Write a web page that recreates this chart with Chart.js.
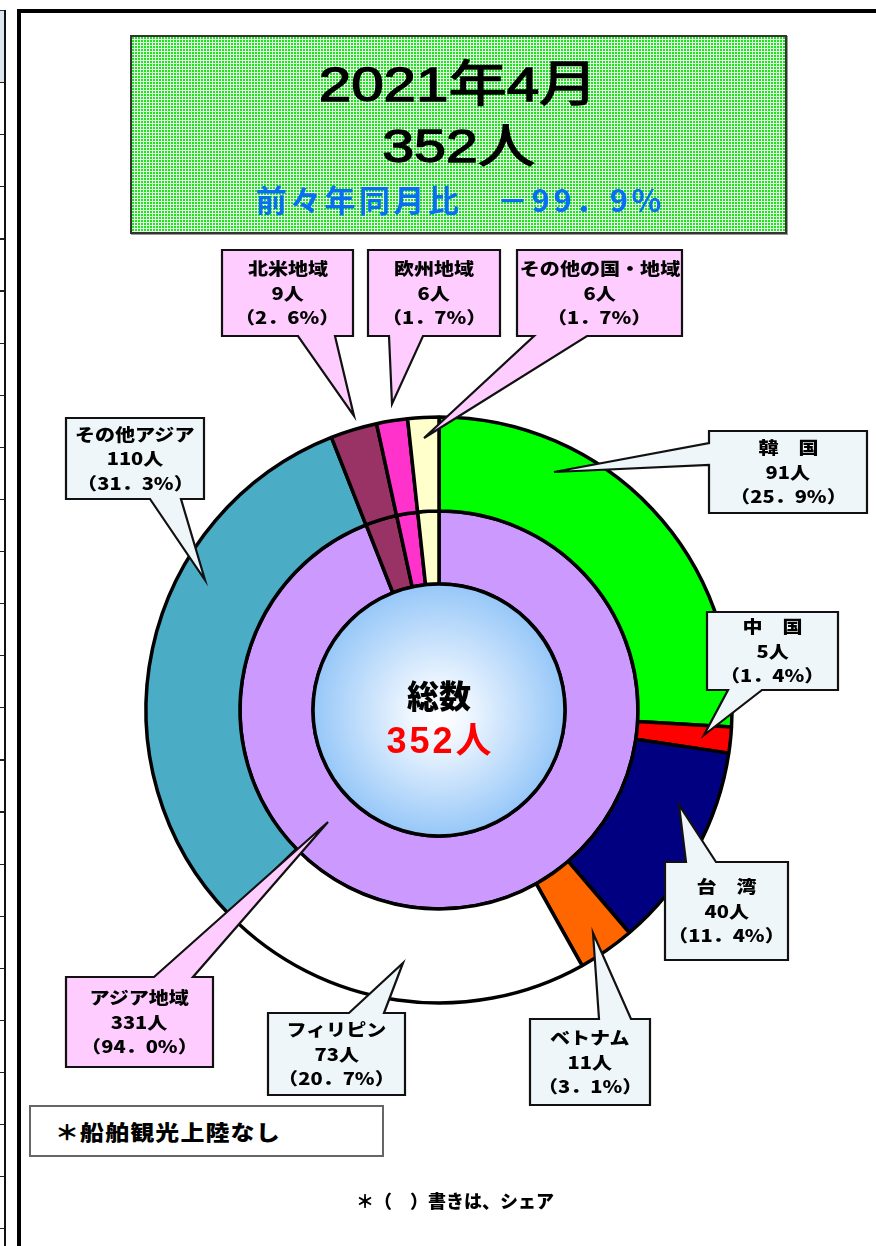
<!DOCTYPE html>
<html><head><meta charset="utf-8">
<script src="https://cdn.jsdelivr.net/npm/chart.js@4.4.0/dist/chart.umd.min.js"></script>
<style>
html,body{margin:0;padding:0;background:#fff;}
body{width:876px;height:1246px;position:relative;overflow:hidden;font-family:"Noto Sans CJK JP","Noto Sans",sans-serif;}
#c{position:absolute;left:0;top:0;}
#frame{position:absolute;left:17px;top:9px;width:900px;height:1300px;border-top:4px solid #000;border-left:4px solid #000;}
#tblHead{position:absolute;left:0;top:10px;width:4px;height:72px;background:#DCE6F1;border-top:1px solid #333;}
#tblLines{position:absolute;left:0;top:82px;width:4px;height:1164px;background:repeating-linear-gradient(to bottom,#222 0,#222 1.2px,transparent 1.2px,transparent 52.1px);}
#tblV{position:absolute;left:4px;top:10px;width:1.5px;height:1236px;background:#111;}
#title{position:absolute;left:130px;top:35px;width:653px;height:195px;border:2px solid #333;box-shadow:1px 1px 0 #999;
  background-color:#eaffea;background-image:radial-gradient(circle at 1px 1px,#18e618 0.9px,transparent 1.1px);background-size:3px 3px;}
.tl{position:absolute;left:0;width:100%;text-align:center;white-space:nowrap;}
.tl span{display:inline-block;transform-origin:50% 50%;}
#t1{top:17px;font-family:"Liberation Sans","Noto Sans CJK JP",sans-serif;font-weight:400;font-size:49px;line-height:60px;color:#000;-webkit-text-stroke:1.3px #000;}
#t1 span{transform:scaleX(1.19);}
#t2{top:81px;font-family:"Liberation Sans","Noto Sans CJK JP",sans-serif;font-weight:400;font-size:47px;line-height:56px;color:#000;-webkit-text-stroke:1.3px #000;}
#t2 span{transform:scaleX(1.22);}
#t3{top:144px;font-family:"Noto Sans CJK JP",sans-serif;font-weight:700;font-size:31px;line-height:36px;letter-spacing:3.5px;padding-left:3.5px;box-sizing:border-box;color:#0a6ef5;}
.lbl{position:absolute;display:flex;flex-direction:column;justify-content:center;align-items:center;font-weight:900;font-size:17px;line-height:24.5px;color:#000;white-space:nowrap;}
.lbl div{transform:scaleX(1.18);}
.center{position:absolute;left:339px;width:200px;text-align:center;white-space:nowrap;}
#c1{top:674px;font-weight:900;font-size:32px;line-height:40px;color:#000;}
#c2{top:720px;font-family:"Liberation Sans","Noto Sans CJK JP",sans-serif;font-weight:700;font-size:36px;line-height:42px;letter-spacing:3px;padding-left:3px;box-sizing:border-box;color:#ff0000;}
#note1{position:absolute;left:29px;top:1105px;width:351px;height:48px;border:2px solid #666;background:#fff;}
#note1 span{position:absolute;left:24px;top:9px;font-weight:900;font-size:21px;line-height:30px;letter-spacing:1px;white-space:nowrap;transform:scaleX(1.14);transform-origin:0 50%;}
#note2{position:absolute;left:255px;top:1186px;width:400px;text-align:center;font-weight:900;font-size:18px;line-height:28px;white-space:nowrap;}
</style></head><body>
<div id="tblHead"></div><div id="tblLines"></div><div id="tblV"></div>
<div id="frame"></div>
<canvas id="c" width="876" height="1246"></canvas>
<div id="title"><div class="tl" id="t1"><span></span></div><div class="tl" id="t2"><span></span></div><div class="tl" id="t3"></div></div>
<div id="c1" class="center"></div><div id="c2" class="center"></div>
<div id="note1"><span id="n1"></span></div>
<div id="note2"></div>
<div id="labels"></div>
<script>
// ---------- data ----------
const outerLabels = ['韓　国','中　国','台　湾','ベトナム','フィリピン','その他アジア','北米地域','欧州地域','その他の国・地域'];
const outerValues = [91, 5, 40, 11, 73, 110, 9, 6, 6];
const outerShares = ['25．9','1．4','11．4','3．1','20．7','31．3','2．6','1．7','1．7'];
const innerLabels = ['アジア地域','北米地域','欧州地域','その他の国・地域'];
const innerValues = [331, 9, 6, 6];
const innerShares = ['94．0','2．6','1．7','1．7'];
const titleMonth = '2021年4月';
const totalVisitors = 352;
const yoyText = '前々年同月比　－99．9%';
const centerLabel = '総数';
const noteShip = '＊船舶観光上陸なし';
const noteShare = '＊（　）書きは、シェア';

// ---------- styles ----------
const outerColors = ['#00FF00','#FF0000','#000080','#FF6600','#FFFFFF','#4BACC6','#993366','#FF33CC','#FFFFCC'];
const innerColors = ['#CC99FF','#993366','#FF33CC','#FFFFCC'];
const LIGHT = '#EEF6F9', PINK = '#FFCCFF';
// callout layout: ring 0 = outer dataset, ring 1 = inner dataset
const callouts = [
  {ring:0, i:0, x:709, y:431, w:158, h:82, edge:'left',   a:443, b:465, tip:[554,472], fill:LIGHT},
  {ring:0, i:1, x:707, y:612, w:131, h:78, edge:'bottom', a:728, b:762, tip:[704,735], fill:LIGHT},
  {ring:0, i:2, x:665, y:862, w:123, h:98, edge:'top',    a:686, b:716, tip:[679,805], fill:LIGHT},
  {ring:0, i:3, x:530, y:1019,w:120, h:86, edge:'top',    a:599, b:631, tip:[593,933], fill:LIGHT},
  {ring:0, i:4, x:268, y:1013,w:137, h:82, edge:'top',    a:349, b:384, tip:[403,963], fill:LIGHT},
  {ring:0, i:5, x:66,  y:418, w:138, h:81, edge:'bottom', a:150, b:181, tip:[205,580], fill:LIGHT},
  {ring:1, i:1, x:222, y:250, w:131, h:86, edge:'bottom', a:298, b:335, tip:[354,416], fill:PINK},
  {ring:1, i:2, x:368, y:250, w:132, h:86, edge:'bottom', a:389, b:423, tip:[392,404], fill:PINK},
  {ring:1, i:3, x:517, y:250, w:165, h:86, edge:'bottom', a:534, b:587, tip:[424,438], fill:PINK},
  {ring:1, i:0, x:66,  y:977, w:147, h:90, edge:'top',    a:154, b:193, tip:[328,822], fill:PINK}
];

// ---------- texts ----------
document.querySelector('#t1 span').textContent = titleMonth;
document.querySelector('#t2 span').textContent = totalVisitors + '人';
document.getElementById('t3').textContent = yoyText;
document.getElementById('c1').textContent = centerLabel;
document.getElementById('c2').textContent = totalVisitors + '人';
document.getElementById('n1').textContent = noteShip;
document.getElementById('note2').textContent = noteShare;
const labelsDiv = document.getElementById('labels');
callouts.forEach(c => {
  const L = c.ring === 0 ? outerLabels : innerLabels;
  const V = c.ring === 0 ? outerValues : innerValues;
  const S = c.ring === 0 ? outerShares : innerShares;
  const d = document.createElement('div');
  d.className = 'lbl';
  d.style.left = c.x + 'px'; d.style.top = c.y + 'px';
  d.style.width = c.w + 'px'; d.style.height = c.h + 'px';
  [L[c.i], V[c.i] + '人', '（' + S[c.i] + '%）'].forEach(t => {
    const s = document.createElement('div'); s.textContent = t; d.appendChild(s);
  });
  labelsDiv.appendChild(d);
});

// ---------- chart ----------
function balloonPath(ctx, c) {
  const x0 = c.x, y0 = c.y, x1 = c.x + c.w, y1 = c.y + c.h;
  const pts = [[x0, y0]];
  if (c.edge === 'top') pts.push([c.a, y0], c.tip, [c.b, y0]);
  pts.push([x1, y0], [x1, y1]);
  if (c.edge === 'bottom') pts.push([c.b, y1], c.tip, [c.a, y1]);
  pts.push([x0, y1]);
  if (c.edge === 'left') pts.push([x0, c.b], c.tip, [x0, c.a]);
  ctx.beginPath();
  pts.forEach((p, k) => k ? ctx.lineTo(p[0], p[1]) : ctx.moveTo(p[0], p[1]));
  ctx.closePath();
}
const overlayPlugin = {
  id: 'overlay',
  afterDatasetsDraw(chart) {
    const ctx = chart.ctx;
    const arc = chart.getDatasetMeta(1).data[0];
    const cx = arc.x, cy = arc.y, r = arc.innerRadius;
    ctx.save();
    const g = ctx.createRadialGradient(cx, cy + 6, 0, cx, cy, r);
    g.addColorStop(0, '#FFFFFF');
    g.addColorStop(0.2, '#F2F8FF');
    g.addColorStop(1, '#96C7F8');
    ctx.beginPath(); ctx.arc(cx, cy, r, 0, Math.PI * 2);
    ctx.fillStyle = g; ctx.fill();
    ctx.lineWidth = 3.5; ctx.strokeStyle = '#000'; ctx.stroke();
    callouts.forEach(c => {
      balloonPath(ctx, c);
      ctx.fillStyle = c.fill; ctx.fill();
      ctx.lineWidth = 2.2; ctx.strokeStyle = '#111'; ctx.lineJoin = 'miter'; ctx.stroke();
    });
    ctx.restore();
  }
};

new Chart(document.getElementById('c'), {
  type: 'doughnut',
  data: {
    labels: outerLabels,
    datasets: [
      {label: 'outer', data: outerValues, backgroundColor: outerColors, borderColor: '#000', borderWidth: 3.5, weight: 94},
      {label: 'inner', data: innerValues, backgroundColor: innerColors, borderColor: '#000', borderWidth: 3.5, weight: 73}
    ]
  },
  options: {
    responsive: false,
    devicePixelRatio: 1,
    animation: false,
    radius: 293,
    cutout: '43%',
    layout: {padding: {left: 2, right: 0, top: 174, bottom: 0}},
    plugins: {legend: {display: false}, tooltip: {enabled: false}},
    events: []
  },
  plugins: [overlayPlugin]
});
</script>
</body></html>
